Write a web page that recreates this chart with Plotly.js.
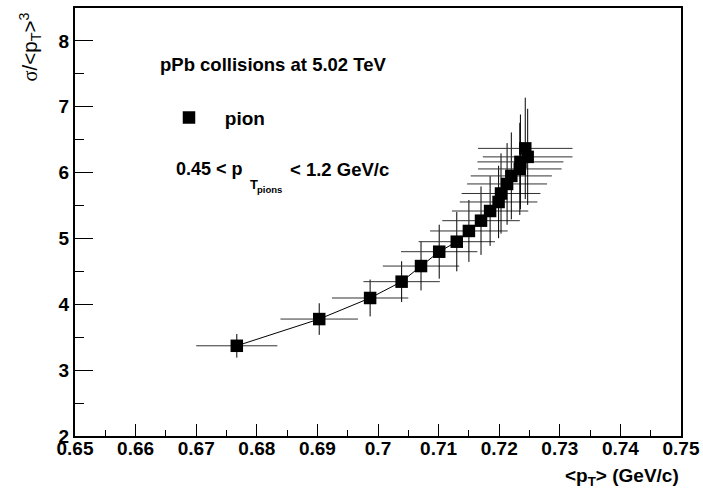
<!DOCTYPE html>
<html>
<head>
<meta charset="utf-8">
<script src="https://cdn.plot.ly/plotly-3.0.1.min.js"></script>
<style>html,body{margin:0;padding:0;background:#fff;}#chart{width:703px;height:489px;}</style>
</head>
<body>
<div id="chart"></div>
<script>
// <pT> of pions (GeV/c) and sigma/<pT>^3
var ptMean = [0.6767, 0.6903, 0.6987, 0.7039, 0.7071, 0.7101, 0.7130, 0.7150, 0.7170,
              0.7185, 0.7199, 0.7203, 0.7213, 0.7220, 0.7234, 0.7235, 0.7247, 0.7243];
var ratio = [3.370, 3.776, 4.096, 4.344, 4.581, 4.799, 4.951, 5.114, 5.270,
             5.417, 5.554, 5.683, 5.828, 5.950, 6.056, 6.163, 6.239, 6.368];
var ptErr = [0.0067, 0.0064, 0.0063, 0.0063, 0.0063, 0.0063, 0.0063, 0.0064, 0.0064,
             0.0063, 0.0064, 0.0065, 0.0066, 0.0067, 0.0069, 0.0071, 0.0074, 0.0078];
var ratioErr = [0.18, 0.24, 0.28, 0.31, 0.37, 0.41, 0.45, 0.47, 0.52,
                0.53, 0.55, 0.61, 0.62, 0.66, 0.70, 0.72, 0.73, 0.77];
var seriesName = 'pion';
var xTicks = [0.65, 0.66, 0.67, 0.68, 0.69, 0.70, 0.71, 0.72, 0.73, 0.74, 0.75];
var xTickText = ['0.65', '0.66', '0.67', '0.68', '0.69', '0.7', '0.71', '0.72', '0.73', '0.74', '0.75'];
var yTicks = [2, 3, 4, 5, 6, 7, 8];

var F = 'Liberation Sans, Arial, Helvetica, sans-serif';
var L = 75, R = 22, T = 8, B = 53, W = 703, H = 489;
var pw = W - L - R, ph = H - T - B;
function px(x) { return (x - L) / pw; }
function py(y) { return 1 - (y - T) / ph; }

var traces = [
  {x: ptMean, y: ratio, type: 'scatter', mode: 'lines',
   line: {color: '#000', width: 1}, showlegend: false, hoverinfo: 'skip'},
  {x: ptMean, y: ratio, type: 'scatter', mode: 'markers', name: '\u00a0\u00a0\u00a0' + seriesName,
   marker: {symbol: 'square', size: 12.5, color: '#000'},
   error_x: {type: 'data', array: ptErr, visible: true, color: '#333', thickness: 1, width: 0},
   error_y: {type: 'data', array: ratioErr, visible: true, color: '#000', thickness: 1, width: 0}}
];

var layout = {
  width: W, height: H,
  margin: {l: L, r: R, t: T, b: B},
  paper_bgcolor: '#fff', plot_bgcolor: '#fff',
  font: {family: F, size: 19, color: '#000'},
  showlegend: true,
  legend: {x: px(169), y: py(117.7), xanchor: 'left', yanchor: 'middle',
    bgcolor: 'rgba(0,0,0,0)', borderwidth: 0,
    font: {family: F, size: 19, color: '#000', weight: 'bold'}},
  xaxis: {range: [0.65, 0.75], tickmode: 'array', tickvals: xTicks, ticktext: xTickText,
    ticks: 'inside', ticklen: 12, tickwidth: 1, tickcolor: '#000',
    minor: {dtick: 0.005, ticks: 'inside', ticklen: 6, tickwidth: 1, tickcolor: '#000'},
    showline: true, linecolor: '#000', linewidth: 2, mirror: true,
    showgrid: false, zeroline: false, ticklabelstandoff: -6,
    tickfont: {family: F, size: 19, color: '#000', weight: 'bold'}},
  yaxis: {range: [2, 8.5], tickmode: 'array', tickvals: yTicks,
    ticks: 'inside', ticklen: 18, tickwidth: 1, tickcolor: '#000',
    minor: {dtick: 0.5, ticks: 'inside', ticklen: 9, tickwidth: 1, tickcolor: '#000'},
    showline: true, linecolor: '#000', linewidth: 2, mirror: true,
    showgrid: false, zeroline: false,
    tickfont: {family: F, size: 19, color: '#000', weight: 'bold'}},
  annotations: [
    {xref: 'paper', yref: 'paper', x: px(158), y: py(65), xanchor: 'left', yanchor: 'middle',
     text: '<b>pPb collisions at 5.02 TeV</b>', showarrow: false, font: {family: F, size: 18.5}},
    {xref: 'paper', yref: 'paper', x: px(174), y: py(169.5), xanchor: 'left', yanchor: 'middle',
     text: '<b>0.45 &lt; p</b>', showarrow: false, font: {family: F, size: 18}},
    {xref: 'paper', yref: 'paper', x: px(248), y: py(185), xanchor: 'left', yanchor: 'middle',
     text: '<b>T</b>', showarrow: false, font: {family: F, size: 13}},
    {xref: 'paper', yref: 'paper', x: px(255), y: py(189), xanchor: 'left', yanchor: 'middle',
     text: '<b>pions</b>', showarrow: false, font: {family: F, size: 9.5}},
    {xref: 'paper', yref: 'paper', x: px(288), y: py(169.5), xanchor: 'left', yanchor: 'middle',
     text: '<b>&lt; 1.2 GeV/c</b>', showarrow: false, font: {family: F, size: 18.5}},
    {xref: 'paper', yref: 'paper', x: 1, y: py(477), xanchor: 'right', yanchor: 'middle',
     text: '<b>&lt;p<sub>T</sub>&gt; (GeV/c)</b>', showarrow: false, font: {family: F, size: 19}},
    {xref: 'paper', yref: 'paper', x: px(30), y: py(11), xanchor: 'center', yanchor: 'top',
     textangle: -90,
     text: '<span style="font-family:Liberation Serif">σ</span>/&lt;p<sub>T</sub>&gt;<sup>3</sup>',
     showarrow: false, font: {family: F, size: 20.5}}
  ]
};

Plotly.newPlot('chart', traces, layout, {displayModeBar: false, staticPlot: true});
</script>
</body>
</html>
